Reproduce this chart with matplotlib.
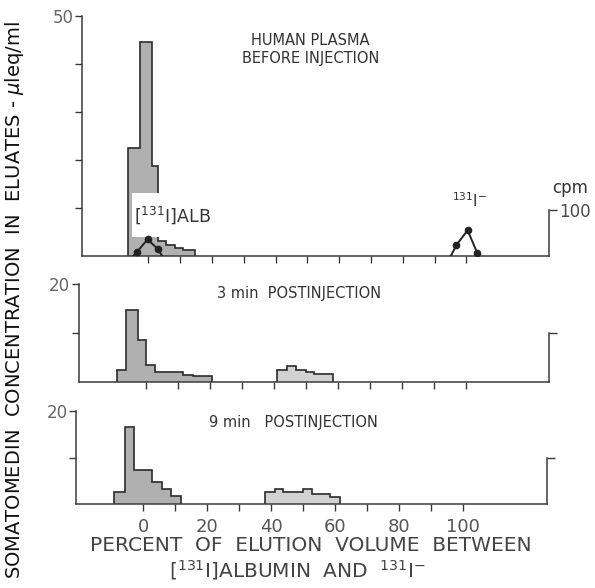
import numpy as np
import matplotlib
matplotlib.use("Agg")
from matplotlib import pyplot as plt
from matplotlib.patches import Rectangle

plt.rcParams['font.family'] = 'DejaVu Sans'

# somatomedin activity per fraction (step histograms: bin edges + heights)
pre_edges = [-6.3, -2.7, 1.0, 3.1, 5.5, 8.2, 11.0, 14.6]
pre_vals = [22.6, 44.6, 18.8, 3.1, 2.3, 1.6, 1.25]

min3_edges = [-9.0, -6.2, -2.5, 0.1, 2.9, 11.8, 14.9, 20.6]
min3_vals = [2.3, 14.7, 8.6, 3.5, 2.0, 1.45, 1.15]
min3_late_edges = [41.1, 44.1, 46.9, 50.0, 52.7, 58.6]
min3_late_vals = [2.5, 3.2, 2.5, 2.0, 1.65]

min9_edges = [-9.2, -5.7, -2.8, 2.8, 5.75, 8.65, 11.7]
min9_vals = [2.7, 16.6, 7.3, 4.7, 3.3, 1.85]
min9_late_edges = [38.0, 41.2, 43.7, 47.0, 50.0, 52.6, 58.3, 61.5]
min9_late_vals = [2.7, 3.2, 2.7, 2.7, 3.2, 2.2, 1.6]

# 131I radioactivity (cpm) in the pre-injection run
alb_x = [-4.8, -3.6, -0.3, 3.0, 4.3]
alb_cpm = [0, 9, 36, 15, 0]
iod_x = [95.1, 96.9, 100.4, 103.4]
iod_cpm = [0, 24, 56, 7]

xticks = list(range(0, 101, 10))
xticklabels = [str(t) if t % 20 == 0 else '' for t in xticks]

axis_col = '#3a3a3a'
txt_col = '#4a4a4a'
fill_dark = '#b0b0b0'
fill_light = '#d2d2d2'

W, H = 595, 588
fig = plt.figure(figsize=(W / 100, H / 100), dpi=100)


def make_panel(left, right, base, top, ymax, yticks, ylab):
    ax = fig.add_axes([left / W, 1 - base / H, (right - left) / W, (base - top) / H])
    ax.set_xlim(-21, 126)
    ax.set_ylim(0, ymax)
    for s in ['top', 'right']:
        ax.spines[s].set_visible(False)
    for s in ['left', 'bottom']:
        ax.spines[s].set_color(axis_col)
        ax.spines[s].set_linewidth(1.1)
    ax.set_xticks(xticks)
    ax.set_xticklabels([])
    ax.set_yticks(yticks)
    ax.set_yticklabels([ylab if t == yticks[-1] else '' for t in yticks])
    ax.tick_params(direction='out', length=5, width=1.0, color=axis_col,
                   labelsize=12, labelcolor='#666666', pad=1)
    ax.patch.set_visible(False)
    return ax


def bracket(ax, ymax_r, top_r, label=''):
    ax2 = ax.twinx()
    ax2.set_ylim(0, ymax_r)
    for s in ['top', 'left', 'bottom']:
        ax2.spines[s].set_visible(False)
    ax2.spines['right'].set_bounds(0, top_r)
    ax2.spines['right'].set_color(axis_col)
    ax2.spines['right'].set_linewidth(1.1)
    ax2.set_yticks([top_r])
    ax2.set_yticklabels([label])
    ax2.tick_params(direction='out', length=6, width=1.0, color=axis_col,
                    labelsize=12, labelcolor=txt_col, pad=1)
    return ax2


def hist(ax, vals, edges, col):
    ax.stairs(vals, edges, baseline=0, fill=True, facecolor=col, edgecolor='none')
    ax.stairs(vals, edges, baseline=0, fill=False, color='#2b2b2b', linewidth=1.2)


# top panel: before injection
ax1 = make_panel(81.7, 549, 256, 16, 50, [10, 20, 30, 40, 50], '50')
hist(ax1, pre_vals, pre_edges, fill_dark)
# white label field laid over the albumin peak
ax1.add_patch(Rectangle((-5.2, 4.0), 23.3, 9.1, facecolor='white', edgecolor='none', zorder=3))
ax1.text(-4.5, 8.5, r'$[^{131}$I$]$ALB', fontsize=12.5, color='#333333',
         ha='left', va='center', zorder=4)
ax1.text(51, 43, 'HUMAN PLASMA\nBEFORE INJECTION', fontsize=10.5, color='#333333',
         ha='center', va='center', linespacing=1.25)
ax1.text(101, 11.5, r'$^{131}$I$^{-}$', fontsize=11, color='#333333', ha='center', va='center')

cp = bracket(ax1, 100 * 240 / 46, 100, '100')
cp.plot(alb_x, alb_cpm, color='#222222', lw=1.4, marker='o', ms=4.5, markevery=[1, 2, 3], zorder=5)
cp.plot(iod_x, iod_cpm, color='#222222', lw=1.4, marker='o', ms=4.5, markevery=[1, 2, 3])
fig.text(570 / W, 1 - 188 / H, 'cpm', fontsize=12, color='#333333', ha='center', va='center')

# middle panel: 3 min
ax2 = make_panel(78.5, 549, 381.7, 284.3, 20, [10, 20], '20')
hist(ax2, min3_vals, min3_edges, fill_dark)
hist(ax2, min3_late_vals, min3_late_edges, fill_light)
ax2.text(48, 18.2, '3 min  POSTINJECTION', fontsize=10.5, color='#333333', ha='center', va='center')
bracket(ax2, 20, 10)

# bottom panel: 9 min
ax3 = make_panel(76.1, 546.5, 504.3, 411.3, 20, [10, 20], '20')
hist(ax3, min9_vals, min9_edges, fill_dark)
hist(ax3, min9_late_vals, min9_late_edges, fill_light)
ax3.text(47, 17.5, '9 min   POSTINJECTION', fontsize=10.5, color='#333333', ha='center', va='center')
bracket(ax3, 20, 10)
ax3.set_xticklabels(xticklabels)
ax3.tick_params(axis='x', labelsize=13, labelcolor='#555555', pad=5)

ax3.text(52.4, -0.44, 'PERCENT  OF  ELUTION  VOLUME  BETWEEN', transform=ax3.get_xaxis_transform(),
         fontsize=14.5, color='#444444', ha='center', va='center')
ax3.text(48, -0.71, r'$\left[^{131}\mathrm{I}\right]$ALBUMIN  AND  $^{131}$I$^{-}$',
         transform=ax3.get_xaxis_transform(), fontsize=14.5, color='#444444', ha='center', va='center')

fig.text(15 / W, 1 - 300 / H, 'SOMATOMEDIN  CONCENTRATION  IN  ELUATES - $\\mu$leq/ml',
         rotation=90, fontsize=14, color='#111111', ha='center', va='center')

fig.savefig('out.png', dpi=100)
